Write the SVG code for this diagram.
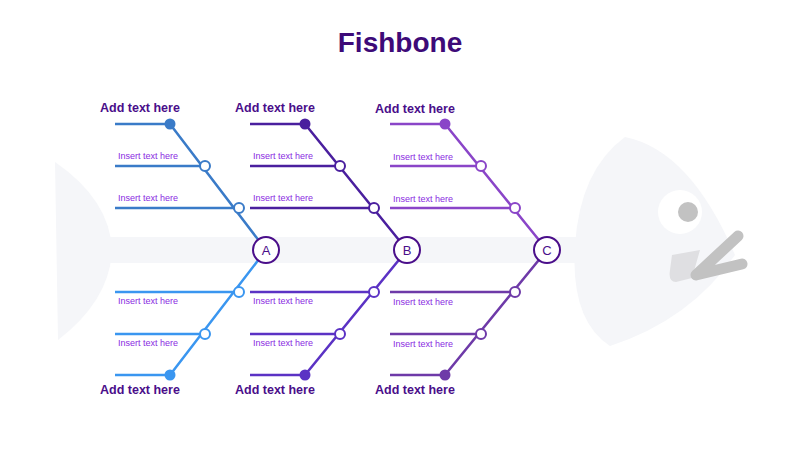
<svg xmlns="http://www.w3.org/2000/svg" width="800" height="450" viewBox="0 0 800 450">
<style>
.t{font-family:"Liberation Sans",Arial,sans-serif;font-weight:bold;font-size:12.5px;fill:#4a0e8a}
.s{font-family:"Liberation Sans",Arial,sans-serif;font-size:9px;fill:#8a2be2}
.b{fill:none;stroke-width:2.5}
.r{fill:#fff;stroke-width:2}
.n{fill:#fff;stroke:#4a0e8a;stroke-width:2}
.nl{font-family:"Liberation Sans",Arial,sans-serif;font-size:13px;fill:#4a0e8a;text-anchor:middle}
</style>
<rect width="800" height="450" fill="#fff"/>
<text x="400" y="52" text-anchor="middle" font-family="Liberation Sans,Arial,sans-serif" font-weight="bold" font-size="28" fill="#3d0a78">Fishbone</text>
<g id="fish">
<path d="M55,162 Q110,200 112,250 Q110,300 58,340 Z" fill="#f5f6f9"/>
<rect x="110" y="237" width="495" height="26" fill="#f5f6f9"/>
<path d="M625,137 Q690,150 735,255 Q690,320 610,346 Q570,320 575,245 Q580,170 625,137 Z" fill="#f5f6f9"/>
<circle cx="680" cy="212" r="22" fill="#fff"/>
<circle cx="688" cy="212" r="10" fill="#c2c2c2"/>
<path d="M672,255 L700,250 L692,278 L676,282 Q668,282 670,270 Z" fill="#dfdfe2"/>
<path d="M738,236 L696,275 L742,264" fill="none" stroke="#c2c2c2" stroke-width="11" stroke-linecap="round" stroke-linejoin="round"/>
</g>
<g id="connectors">
<g stroke="#3a7bc8" class="b"><path d="M115,124H170L266,250M115,166H205M115,208H239"/></g>
<g stroke="#3a96f0" class="b"><path d="M115,375H170L266,250M115,334H205M115,292H239"/></g>
<g stroke="#4a1f9e" class="b"><path d="M250,124H305L407,250M250,166H340M250,208H374"/></g>
<g stroke="#5b32c4" class="b"><path d="M250,375H305L407,250M250,334H340M250,292H374"/></g>
<g stroke="#8a45c8" class="b"><path d="M390,124H445L547,250M390,166H481M390,208H515"/></g>
<g stroke="#6e3aa8" class="b"><path d="M390,375H445L547,250M390,334H481M390,292H515"/></g>
</g>
<g id="groupA">
<circle cx="170" cy="124" r="5.5" fill="#3a7bc8"/><circle cx="205" cy="166" r="5" class="r" stroke="#3a7bc8"/><circle cx="239" cy="208" r="5" class="r" stroke="#3a7bc8"/>
<circle cx="170" cy="375" r="5.5" fill="#3a96f0"/><circle cx="205" cy="334" r="5" class="r" stroke="#3a96f0"/><circle cx="239" cy="292" r="5" class="r" stroke="#3a96f0"/>
<circle cx="266" cy="250" r="13" class="n"/><text x="266" y="255" class="nl">A</text>
<text x="100" y="112" class="t">Add text here</text><text x="100" y="394" class="t">Add text here</text>
<text x="118" y="159" class="s">Insert text here</text><text x="118" y="201" class="s">Insert text here</text><text x="118" y="304" class="s">Insert text here</text><text x="118" y="346" class="s">Insert text here</text>
</g>
<g id="groupB">
<circle cx="305" cy="124" r="5.5" fill="#4a1f9e"/><circle cx="340" cy="166" r="5" class="r" stroke="#4a1f9e"/><circle cx="374" cy="208" r="5" class="r" stroke="#4a1f9e"/>
<circle cx="305" cy="375" r="5.5" fill="#5b32c4"/><circle cx="340" cy="334" r="5" class="r" stroke="#5b32c4"/><circle cx="374" cy="292" r="5" class="r" stroke="#5b32c4"/>
<circle cx="407" cy="250" r="13" class="n"/><text x="407" y="255" class="nl">B</text>
<text x="235" y="112" class="t">Add text here</text><text x="235" y="394" class="t">Add text here</text>
<text x="253" y="159" class="s">Insert text here</text><text x="253" y="201" class="s">Insert text here</text><text x="253" y="304" class="s">Insert text here</text><text x="253" y="346" class="s">Insert text here</text>
</g>
<g id="groupC">
<circle cx="445" cy="124" r="5.5" fill="#8a45c8"/><circle cx="481" cy="166" r="5" class="r" stroke="#8a45c8"/><circle cx="515" cy="208" r="5" class="r" stroke="#8a45c8"/>
<circle cx="445" cy="375" r="5.5" fill="#6e3aa8"/><circle cx="481" cy="334" r="5" class="r" stroke="#6e3aa8"/><circle cx="515" cy="292" r="5" class="r" stroke="#6e3aa8"/>
<circle cx="547" cy="250" r="13" class="n"/><text x="547" y="255" class="nl">C</text>
<text x="375" y="113" class="t">Add text here</text><text x="375" y="394" class="t">Add text here</text>
<text x="393" y="160" class="s">Insert text here</text><text x="393" y="202" class="s">Insert text here</text><text x="393" y="305" class="s">Insert text here</text><text x="393" y="347" class="s">Insert text here</text>
</g>
</svg>
